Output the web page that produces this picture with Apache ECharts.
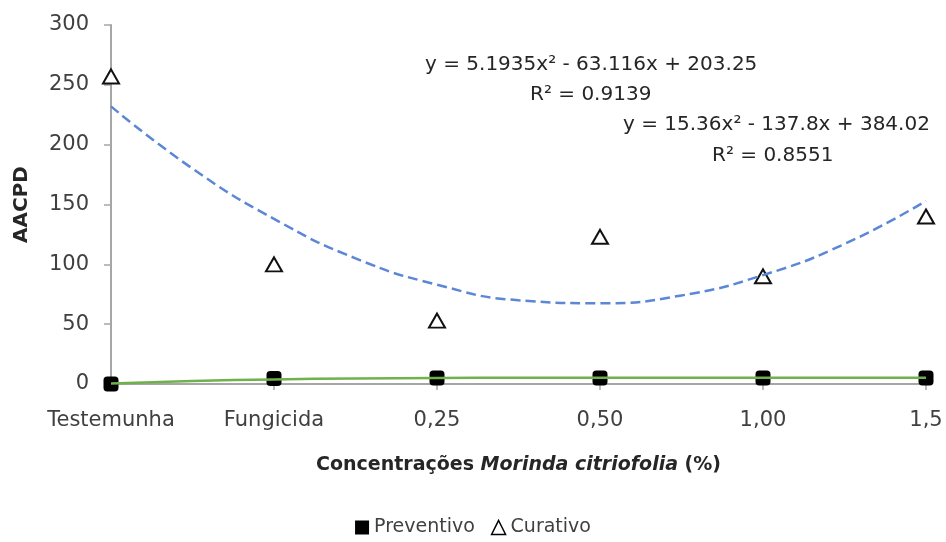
<!DOCTYPE html>
<html>
<head>
<meta charset="utf-8">
<title>AACPD</title>
<script src="https://cdn.jsdelivr.net/npm/echarts@6/dist/echarts.min.js"></script>
<style>
html,body{margin:0;padding:0;background:#fff;}
#chart{width:946px;height:542px;}
</style>
</head>
<body>
<div id="chart"></div>
<script>
// categories on the x axis (positions 1..6)
var cats=['Testemunha','Fungicida','0,25','0,50','1,00','1,5'];
var yTicks=[0,50,100,150,200,250,300];

// observed values
var preventivo=[0,4.5,5,5,5,5];
var curativo=[257,100,53,123,90,140];

// trend lines at half steps
var trendX=[1,1.5,2,2.5,3,3.5,4,4.5,5,5.5,6];
var trendCurativo=[232,180,138,105,83,70,67.5,74,91,117,153];
var trendPreventivo=[0.4,2.5,3.8,4.6,5,5.2,5.3,5.3,5.3,5.2,5.2];

var font='DejaVu Sans';

function pairs(xs,ys){
	var out=[];
	for(var i=0;i<ys.length;i++){
		out.push([xs[i],ys[i]]);
	}
	return out;
}
var catX=[];
for(var a=1;a<=cats.length;a++){catX.push(a)}

var echart=echarts.init(document.getElementById('chart'));
var option={
	animation:false,
	textStyle:{fontFamily:font},
	grid:{left:111,right:20,top:25,bottom:158,containLabel:false,outerBoundsMode:'none'},
	xAxis:{
		type:'value',
		min:1,max:6,interval:1,
		name:'{n|Concentrações }{i|Morinda citriofolia}{n| (%)}',
		nameLocation:'middle',
		nameGap:72,
		nameTextStyle:{
			rich:{
				n:{fontFamily:font,fontSize:19,fontWeight:'bold',color:'#262626'},
				i:{fontFamily:font,fontSize:19,fontWeight:'bold',fontStyle:'italic',color:'#262626'}
			}
		},
		splitLine:{show:false},
		axisLine:{lineStyle:{color:'#a6a6a6',width:2}},
		axisTick:{length:6,lineStyle:{color:'#a6a6a6',width:1.5}},
		axisLabel:{
			fontSize:21,color:'#404040',margin:26,
			formatter:function(v){return cats[v-1]||''}
		}
	},
	yAxis:{
		type:'value',
		min:yTicks[0],max:yTicks[yTicks.length-1],interval:50,
		name:'AACPD',
		nameLocation:'middle',
		nameGap:79,
		nameTextStyle:{fontFamily:font,fontSize:20,fontWeight:'bold',color:'#262626'},
		splitLine:{show:false},
		axisLine:{show:true,lineStyle:{color:'#a6a6a6',width:2}},
		axisTick:{show:true,length:7,lineStyle:{color:'#a6a6a6',width:1.5}},
		axisLabel:{fontSize:21,color:'#404040',margin:22}
	},
	legend:{
		bottom:0,
		left:'center',
		itemGap:16,
		itemWidth:14,
		itemHeight:14,
		textStyle:{fontFamily:font,fontSize:19,color:'#404040'},
		data:[
			{name:'Preventivo',icon:'rect',itemStyle:{color:'#000',opacity:1}},
			{name:'Curativo',icon:'triangle',itemStyle:{color:'#fff',borderColor:'#000',borderWidth:1.5,opacity:1}}
		]
	},
	graphic:[
		{type:'text',left:425,top:55,style:{text:'y = 5.1935x² - 63.116x + 203.25',font:'20px "DejaVu Sans"',fill:'#262626'}},
		{type:'text',left:530,top:85,style:{text:'R² = 0.9139',font:'20px "DejaVu Sans"',fill:'#262626'}},
		{type:'text',left:623,top:115,style:{text:'y = 15.36x² - 137.8x + 384.02',font:'20px "DejaVu Sans"',fill:'#262626'}},
		{type:'text',left:712,top:146,style:{text:'R² = 0.8551',font:'20px "DejaVu Sans"',fill:'#262626'}}
	],
	series:[
		{
			name:'Preventivo',
			type:'scatter',
			data:pairs(catX,preventivo),
			symbol:'roundRect',
			symbolSize:15,
			itemStyle:{color:'#000',opacity:1},
			z:3
		},
		{
			name:'Curativo',
			type:'scatter',
			data:pairs(catX,curativo),
			symbol:'triangle',
			symbolSize:[16,14],
			itemStyle:{color:'#fff',borderColor:'#111',borderWidth:2,opacity:1},
			z:3
		},
		{
			name:'trendCurativo',
			type:'line',
			data:pairs(trendX,trendCurativo),
			smooth:0.5,
			showSymbol:false,
			lineStyle:{color:'#5b87d6',width:2.5,type:[10,5]},
			z:4
		},
		{
			name:'trendPreventivo',
			type:'line',
			data:pairs(trendX,trendPreventivo),
			smooth:0.5,
			showSymbol:false,
			lineStyle:{color:'#6fb24c',width:2.5},
			z:4
		}
	]
};
echart.setOption(option);
</script>
</body>
</html>
